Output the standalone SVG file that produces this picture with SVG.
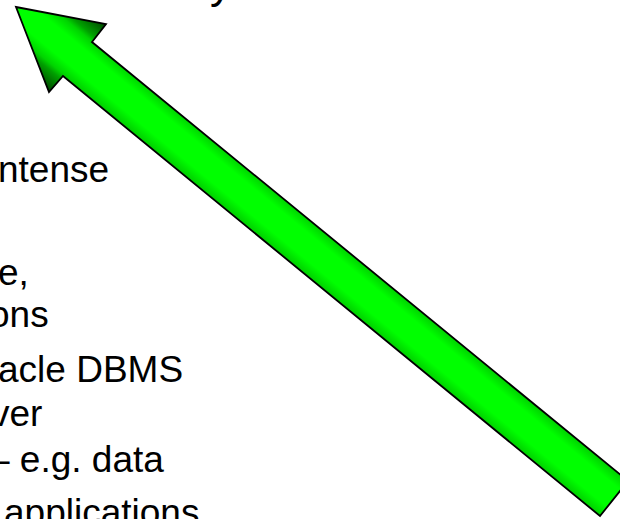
<svg xmlns="http://www.w3.org/2000/svg" width="620" height="519" viewBox="0 0 620 519">
  <style>
    .body { font-family: "Liberation Sans", Arial, Helvetica, sans-serif; font-size: 37px; fill: #000; }
    .title { font-family: "Liberation Sans", Arial, Helvetica, sans-serif; font-size: 44px; fill: #000; }
    .arrow { fill: url(#shade); stroke: #000; stroke-width: 1.8; stroke-linejoin: miter; }
  </style>
  <defs>
    <!-- shading runs across the arrow: dark at the barb tips, bright along the axis -->
    <linearGradient id="shade" gradientUnits="userSpaceOnUse" x1="-12.6" y1="41.8" x2="44.6" y2="-27.8">
      <stop offset="0" stop-color="#004000"/>
      <stop offset="0.2" stop-color="#00a000"/>
      <stop offset="0.26" stop-color="#00d400"/>
      <stop offset="0.38" stop-color="#00ff00"/>
      <stop offset="0.62" stop-color="#00ff00"/>
      <stop offset="0.74" stop-color="#00d400"/>
      <stop offset="0.8" stop-color="#00a000"/>
      <stop offset="1" stop-color="#004000"/>
    </linearGradient>
  </defs>
  <rect width="620" height="519" fill="#fff"/>

  <!-- title descender peeking in at the top edge -->
  <g id="title">
    <text class="title" x="210" y="-2">y</text>
  </g>

  <!-- bullet text, clipped at the left edge -->
  <g id="bullets">
    <text class="body" x="-2" y="182">ntense</text>
    <text class="body" x="-2" y="285">e,</text>
    <text class="body" x="-11" y="327">ons</text>
    <text class="body" x="-2" y="382">acle DBMS</text>
    <text class="body" x="-9" y="426">ver</text>
    <text class="body" x="-11" y="472">– e.g. data</text>
    <text class="body" x="4" y="525">applications</text>
  </g>

  <!-- big block arrow pointing to the top left -->
  <g id="connectors">
    <g id="arrow">
      <polygon class="arrow" points="16,7 106,24 92,42 628,481 600,516 63,76 49,92"/>
    </g>
  </g>
</svg>
